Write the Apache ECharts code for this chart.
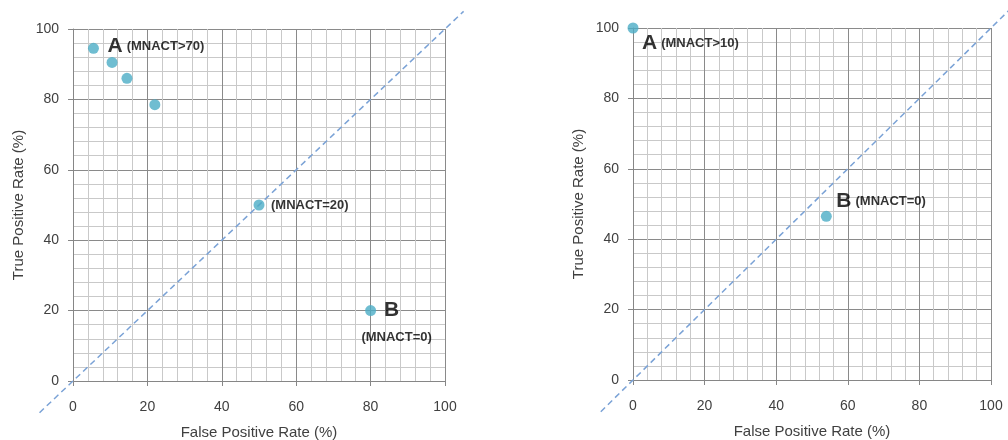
<!DOCTYPE html>
<html>
<head>
<meta charset="utf-8">
<script src="https://cdn.jsdelivr.net/npm/echarts@6/dist/echarts.min.js"></script>
<style>
  html, body { margin: 0; padding: 0; background: #ffffff; }
  #chart { width: 1008px; height: 440px; }
</style>
</head>
<body>
<div id="chart"></div>
<script>
// ROC points for the two MNACT threshold sweeps (values in %)
const leftFpr = [5.5, 10.5, 14.5, 22, 50, 80];
const leftTpr = [94.5, 90.5, 86, 78.5, 50, 20];
const leftLetters = ['A', '', '', '', '', 'B'];
const leftNotes = ['(MNACT>70)', '', '', '', '(MNACT=20)', '(MNACT=0)'];

const rightFpr = [0, 54];
const rightTpr = [100, 46.5];
const rightLetters = ['A', 'B'];
const rightNotes = ['(MNACT>10)', '(MNACT=0)'];

// chance diagonal, drawn a little past both ends of the axes
const chanceLine = [[-9, -9], [105, 105]];

const axisTicks = [0, 20, 40, 60, 80, 100];
const xTitle = 'False Positive Rate (%)';
const yTitle = 'True Positive Rate (%)';

const FONT = '"Liberation Sans", Arial, sans-serif';
const TEXT = '#404040';
const POINT = '#4bacc6';

// label placement per point: [dx, dy] from the symbol centre, text alignment, layout
const leftPlace = [
  { off: [14, -2], align: 'left', stacked: false },
  null, null, null,
  { off: [12, 0], align: 'left', stacked: false },
  { off: [26, 7], align: 'center', stacked: true }
];
const rightPlace = [
  { off: [9, 15], align: 'left', stacked: false },
  { off: [10, -15], align: 'left', stacked: false }
];

const rich = {
  big: { fontFamily: FONT, fontWeight: 'bold', fontSize: 21, color: '#000000', padding: [0, 4, 0, 0] },
  bigS: { fontFamily: FONT, fontWeight: 'bold', fontSize: 21, color: '#000000', padding: [0, 10, 0, 0], lineHeight: 39 },
  small: { fontFamily: FONT, fontWeight: 'bold', fontSize: 13, color: '#000000', lineHeight: 15 }
};

function buildPoints(xs, ys, letters, notes, place) {
  return xs.map((x, i) => {
    const item = { value: [x, ys[i]] };
    const p = place[i];
    if (!p) return item;
    let text;
    if (letters[i] && p.stacked) text = '{bigS|' + letters[i] + '}\n{small|' + notes[i] + '}';
    else if (letters[i]) text = '{big|' + letters[i] + '}{small|' + notes[i] + '}';
    else text = '{small|' + notes[i] + '}';
    item.label = {
      show: true,
      position: 'inside',
      offset: p.off,
      align: p.align,
      verticalAlign: 'middle',
      color: '#000000',
      fontFamily: FONT,
      fontWeight: 'bold',
      formatter: text,
      rich: rich
    };
    return item;
  });
}

function valueAxis(gridIndex, isX) {
  return {
    type: 'value',
    gridIndex: gridIndex,
    min: 0,
    max: 100,
    interval: 20,
    name: isX ? xTitle : yTitle,
    nameLocation: 'middle',
    nameGap: isX ? 44 : 47,
    nameTextStyle: { fontFamily: FONT, fontSize: 15, color: TEXT },
    axisLine: { show: true, onZero: false, lineStyle: { color: '#868686', width: 1 } },
    axisTick: { show: true, length: 5, lineStyle: { color: '#868686' } },
    axisLabel: {
      fontFamily: FONT, fontSize: 14, color: TEXT, margin: isX ? 19 : 14,
      formatter: v => axisTicks.includes(v) ? String(v) : ''
    },
    splitLine: { show: true, lineStyle: { color: '#8a8a8a', width: 1 } },
    minorTick: { show: false, splitNumber: 5 },
    minorSplitLine: { show: true, lineStyle: { color: '#c9c9c9', width: 1 } }
  };
}

// dashed diagonal drawn through the axis scales, allowed to run past the plot edges
function chanceSeries(idx) {
  return {
    type: 'custom',
    xAxisIndex: idx,
    yAxisIndex: idx,
    clip: false,
    silent: true,
    z: 3,
    data: [chanceLine[0].concat(chanceLine[1])],
    renderItem: function (params, api) {
      const p0 = api.coord([api.value(0), api.value(1)]);
      const p1 = api.coord([api.value(2), api.value(3)]);
      return {
        type: 'line',
        shape: { x1: p0[0], y1: p0[1], x2: p1[0], y2: p1[1] },
        style: { stroke: '#7aa2d6', lineWidth: 1.5, lineDash: [6, 4], fill: null }
      };
    }
  };
}

const chart = echarts.init(document.getElementById('chart'), null, { renderer: 'canvas' });
chart.setOption({
  backgroundColor: '#ffffff',
  animation: false,
  grid: [
    { left: 73, top: 29, width: 372, height: 352, containLabel: false, outerBoundsMode: 'none' },
    { left: 633, top: 28, width: 358, height: 352, containLabel: false, outerBoundsMode: 'none' }
  ],
  xAxis: [valueAxis(0, true), valueAxis(1, true)],
  yAxis: [valueAxis(0, false), valueAxis(1, false)],
  series: [
    chanceSeries(0),
    chanceSeries(1),
    {
      type: 'scatter', xAxisIndex: 0, yAxisIndex: 0, clip: false, z: 5,
      symbolSize: 11,
      itemStyle: { color: POINT },
      data: buildPoints(leftFpr, leftTpr, leftLetters, leftNotes, leftPlace)
    },
    {
      type: 'scatter', xAxisIndex: 1, yAxisIndex: 1, clip: false, z: 5,
      symbolSize: 11,
      itemStyle: { color: POINT },
      data: buildPoints(rightFpr, rightTpr, rightLetters, rightNotes, rightPlace)
    }
  ]
});
</script>
</body>
</html>
